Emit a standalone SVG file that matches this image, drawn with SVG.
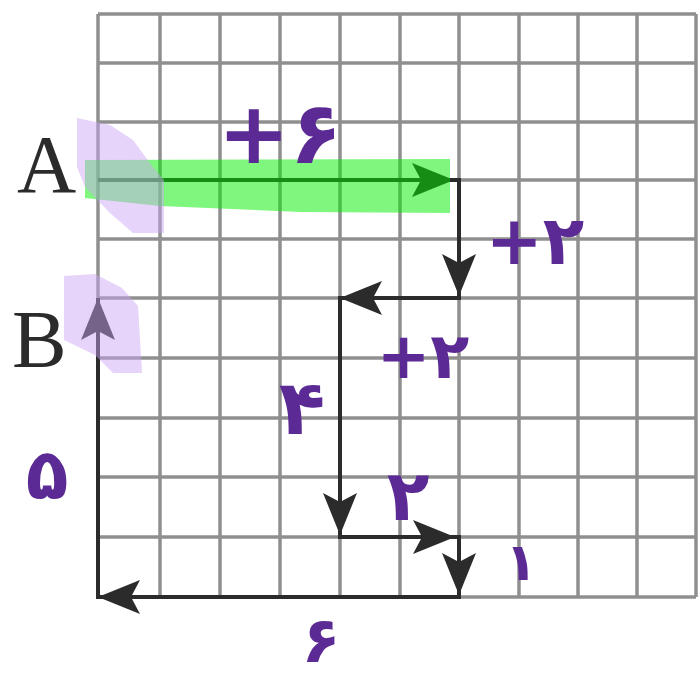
<svg xmlns="http://www.w3.org/2000/svg" width="698" height="681" viewBox="0 0 698 681">
<style>
.grid line{stroke:#8f8f8f;stroke-width:3.5}
.path{stroke:#2b2b2b;stroke-width:4;fill:none}
.lbl{font-family:"Liberation Serif","Times New Roman",serif;font-size:82px;fill:#2b2b2b}
.hw{font-family:"DejaVu Sans",sans-serif;font-weight:bold;fill:#5b2a94;text-anchor:middle}
</style>
<defs>
<marker id="ah" markerUnits="userSpaceOnUse" markerWidth="48" markerHeight="40" viewBox="-44 -20 48 40" refX="0" refY="0" orient="auto">
<path d="M2,0 L-40,-17 L-31,0 L-40,17 Z" fill="#2b2b2b"/>
</marker>
</defs>
<rect width="698" height="681" fill="#fff"/>
<g id="grid" class="grid">
<line x1="98" y1="14" x2="98" y2="597"/><line x1="160" y1="14" x2="160" y2="597"/><line x1="220" y1="14" x2="220" y2="597"/><line x1="280" y1="14" x2="280" y2="597"/><line x1="340" y1="14" x2="340" y2="597"/><line x1="400" y1="14" x2="400" y2="597"/><line x1="459" y1="14" x2="459" y2="597"/><line x1="519" y1="14" x2="519" y2="597"/><line x1="578" y1="14" x2="578" y2="597"/><line x1="637" y1="14" x2="637" y2="597"/><line x1="696" y1="14" x2="696" y2="597"/>
<line x1="98" y1="14" x2="696" y2="14"/><line x1="98" y1="63" x2="696" y2="63"/><line x1="98" y1="122" x2="696" y2="122"/><line x1="98" y1="180" x2="696" y2="180"/><line x1="98" y1="239" x2="696" y2="239"/><line x1="98" y1="298" x2="696" y2="298"/><line x1="98" y1="358" x2="696" y2="358"/><line x1="98" y1="418" x2="696" y2="418"/><line x1="98" y1="477" x2="696" y2="477"/><line x1="98" y1="537" x2="696" y2="537"/><line x1="98" y1="597" x2="696" y2="597"/>
</g>
<g id="connectors" class="path">
<path d="M98,180 H459 V298 H340 V537 H459 V597 H98 V298"/>
<line x1="98" y1="180" x2="452" y2="180" marker-end="url(#ah)"/>
<line x1="459" y1="180" x2="459" y2="294" marker-end="url(#ah)"/>
<line x1="459" y1="298" x2="342" y2="298" marker-end="url(#ah)"/>
<line x1="340" y1="298" x2="340" y2="533" marker-end="url(#ah)"/>
<line x1="340" y1="537" x2="453" y2="537" marker-end="url(#ah)"/>
<line x1="459" y1="537" x2="459" y2="593" marker-end="url(#ah)"/>
<line x1="459" y1="597" x2="100" y2="597" marker-end="url(#ah)"/>
<line x1="98" y1="597" x2="98" y2="300" marker-end="url(#ah)"/>
</g>
<g id="highlights">
<polygon points="85,160 450,159 450,213 300,212 160,206 85,198" fill="rgb(0,240,0)" fill-opacity="0.5"/>
<polygon points="77,118 110,125 133,140 153,167 164,180 164,233 133,233 110,213 85,187 77,167" fill="rgb(204,164,245)" fill-opacity="0.47"/>
<polygon points="64,276 95,274 122,288 138,306 142,373 113,373 95,355 64,340" fill="rgb(204,164,245)" fill-opacity="0.47"/>
</g>
<g id="node-A"><text class="lbl" x="17" y="192">A</text></g>
<g id="node-B"><text class="lbl" x="12" y="367">B</text></g>
<g id="annotations">
<text class="hw" x="280" y="163" font-size="86">+۶</text>
<text class="hw" x="535" y="264" font-size="68">+۲</text>
<text class="hw" x="423" y="378" font-size="64">+۲</text>
<text class="hw" x="302" y="434" font-size="76">۴</text>
<text class="hw" x="47" y="499" font-size="70">۵</text>
<text class="hw" x="408" y="520" font-size="70">۲</text>
<text class="hw" x="521" y="580" font-size="52">۱</text>
<text class="hw" x="321" y="662" font-size="64">۶</text>
</g>
</svg>
